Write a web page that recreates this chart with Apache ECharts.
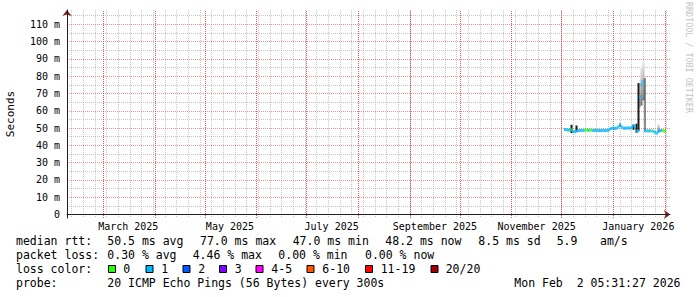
<!DOCTYPE html>
<html><head><meta charset="utf-8">
<script src="https://cdn.jsdelivr.net/npm/echarts@6/dist/echarts.min.js"></script>
<style>html,body{margin:0;padding:0;background:#fff}#c{width:697px;height:297px}</style>
</head><body><div id="c"></div>
<script>
// ---------- data ----------
const endTime = '2026-02-02T05:31:27Z';
const spanDays = 360;
const firstDay = '2025-12-03';
// daily median RTT (ms), Dec 3 2025 .. Feb 1 2026
const medianMs = [
  49.2, 49.0, 48.8, 49.0, 49.0, 48.0, 47.9, 48.2, 48.6, 48.6,
  48.7, 48.6, 48.8, 48.8, 48.7, 48.8, 48.7, 48.6, 48.7, 48.6,
  48.5, 48.6, 48.6, 48.7, 48.6, 48.6, 48.7, 49.4, 49.8, 50.0,
  49.8, 50.0, 50.6, 51.8, 50.8, 50.0, 49.9, 50.0, 50.1, 49.9,
  50.4, 51.4, 51.2, 48.2, 48.4, 68.0, 75.0, 77.0, 48.4, 48.4,
  48.3, 48.4, 48.3, 48.2, 47.6, 47.0, 48.0, 48.5, 48.6, 48.4,
  48.2
];
// lost pings per day (out of 20)
const lossCount = [
  1, 1, 1, 1, 0, 1, 1, 1, 1, 1,
  1, 1, 0, 0, 1, 0, 0, 1, 1, 1,
  1, 1, 1, 1, 1, 1, 1, 1, 1, 1,
  1, 1, 1, 1, 1, 1, 1, 1, 1, 1,
  1, 1, 1, 1, 1, 1, 1, 1, 1, 1,
  1, 1, 0, 1, 1, 1, 1, 1, 1, 0,
  0
];
// outer (light) smoke
const outerDates = ['2026-01-17', '2026-01-18', '2026-01-19', '2026-01-28'];
const outerLo    = [62.0, 63.0, 66.0, 47.5];
const outerHi    = [78.0, 85.0, 88.4, 52.3];
// inner (dark) smoke
const innerDates = ['2025-12-07', '2025-12-10', '2026-01-05', '2026-01-13', '2026-01-15', '2026-01-16', '2026-01-20'];
const innerLo    = [47.1, 48.0, 50.6, 49.0, 47.3, 48.4, 48.4];
const innerHi    = [51.9, 51.5, 52.6, 51.9, 52.5, 76.0, 79.0];

const yTickValues = [0, 10, 20, 30, 40, 50, 60, 70, 80, 90, 100, 110];
const yTickLabels = ['0', '10 m', '20 m', '30 m', '40 m', '50 m', '60 m', '70 m', '80 m', '90 m', '100 m', '110 m'];
const yMinorValues = [5, 15, 25, 35, 45, 55, 65, 75, 85, 95, 105, 115];
const monthGridDates = ['2025-03-01', '2025-04-01', '2025-05-01', '2025-06-01', '2025-07-01', '2025-08-01',
  '2025-09-01', '2025-10-01', '2025-11-01', '2025-12-01', '2026-01-01', '2026-02-01'];
const xLabelDates = ['2025-03-16', '2025-05-16', '2025-07-16', '2025-09-16', '2025-11-16', '2026-01-16'];
const xLabelTexts = ['March 2025', 'May 2025', 'July 2025', 'September 2025', 'November 2025', 'January 2026'];

const lossColorLabels = ['0', '1', '2', '3', '4-5', '6-10', '11-19', '20/20'];
const lossColors = ['#26ff00', '#00b8ff', '#0059ff', '#7e00ff', '#ff00ff', '#ff5500', '#ff0000', '#a10000'];

const statsLine1 = ['median rtt:', '50.5 ms avg', '77.0 ms max', '47.0 ms min', '48.2 ms now', '8.5 ms sd', '5.9', 'am/s'];
const statsLine2 = ['packet loss:', '0.30 % avg', '4.46 % max', '0.00 % min', '0.00 % now'];
const probeLine = ['probe:', '20 ICMP Echo Pings (56 Bytes) every 300s'];
const dateText = 'Mon Feb  2 05:31:27 2026';
const creditText = 'RRDTOOL / TOBI OETIKER';

// ---------- layout (not data) ----------
const line1X = [16, 107.3, 200, 292.7, 385.3, 478.3, 556.7, 600];
const line2X = [16, 107.3, 192.7, 278.3, 365];
const line4X = [16, 107.3];
const swatchX = [108.5, 146, 183, 219.5, 256, 307, 365.5, 431];
const swatchLabelX = [123.3, 161.3, 198.3, 234.7, 271.3, 322.3, 380.7, 445.7];
const rowY = [241.3, 255.3, 269.2, 283.2];
const FONT = '"DejaVu Sans Mono", monospace';

// ---------- build ----------
const DAY = 86400000;
const END = Date.parse(endTime);
const START = END - spanDays * DAY;
const XMAX = END + 1.8 * DAY;
const t0 = Date.parse(firstDay);

const medianData = medianMs.map((v, i) => ({
  value: [t0 + i * DAY, v],
  itemStyle: { color: lossColors[lossCount[i]] }
}));
const outerData = outerDates.map((d, i) => [Date.parse(d), outerLo[i], outerHi[i], outerLo[i], outerHi[i]]);
const innerData = innerDates.map((d, i) => [Date.parse(d), innerLo[i], innerHi[i], innerLo[i], innerHi[i]]);

const monthTs = monthGridDates.map(d => Date.parse(d));
const labelTs = xLabelDates.map(d => Date.parse(d));
const weekTs = [];
for (let t = Date.parse('2025-02-10'); t <= END; t += 7 * DAY) weekTs.push(t);

const majorColor = 'rgba(222,79,79,0.6)';
const majorMarkColor = 'rgba(222,79,79,0.95)';
const minorColor = 'rgba(143,143,143,0.5)';

const graphics = [];
function txt(x, y, s, extra) {
  graphics.push(Object.assign({
    type: 'text', x: x, y: y, silent: true,
    style: { text: s, font: '11.5px ' + FONT, fill: '#000', align: 'left', textAlign: 'left', verticalAlign: 'middle', textVerticalAlign: 'middle' }
  }, extra || {}));
}
statsLine1.forEach((s, i) => txt(line1X[i], rowY[0], s));
statsLine2.forEach((s, i) => txt(line2X[i], rowY[1], s));
txt(16, rowY[2], 'loss color:');
lossColorLabels.forEach((s, i) => {
  graphics.push({ type: 'rect', silent: true, shape: { x: swatchX[i], y: 265.5, width: 7, height: 7 },
    style: { fill: lossColors[i], stroke: '#000', lineWidth: 1 } });
  txt(swatchLabelX[i], rowY[2], s);
});
probeLine.forEach((s, i) => txt(line4X[i], rowY[3], s));
graphics.push({ type: 'text', x: 680.5, y: rowY[3], silent: true,
  style: { text: dateText, font: '11.5px ' + FONT, fill: '#000', align: 'right', textAlign: 'right', verticalAlign: 'middle', textVerticalAlign: 'middle' } });
graphics.push({ type: 'text', x: 689, y: 2, rotation: -Math.PI / 2, silent: true,
  style: { text: creditText, font: '8.4px ' + FONT, fill: '#c4c4c4', align: 'left', textAlign: 'left', verticalAlign: 'middle', textVerticalAlign: 'middle' } });

const chart = echarts.init(document.getElementById('c'), null, { renderer: 'svg', width: 697, height: 297 });
chart.setOption({
  animation: false,
  backgroundColor: '#ffffff',
  grid: { left: 67, right: 27, top: 10, bottom: 79, containLabel: false, outerBoundsMode: 'none' },
  xAxis: [
    { type: 'value', min: START, max: XMAX, position: 'bottom', z: 3, scale: true,
      axisLine: { show: true, onZero: true, lineStyle: { color: '#1f1f1f', width: 1 } },
      axisTick: { show: false, customValues: labelTs },
      axisLabel: { show: true, customValues: labelTs, margin: 3, color: '#000', fontSize: 10, fontFamily: FONT,
        formatter: function (v) { const k = labelTs.indexOf(v); return k >= 0 ? xLabelTexts[k] : ''; } },
      splitLine: { show: false } },
    { type: 'value', min: START, max: XMAX, position: 'bottom', z: 2, scale: true,
      axisLine: { show: true, onZero: true, symbol: ['none', 'arrow'], symbolSize: [7, 6],
        lineStyle: { color: '#801f1f', width: 0 } },
      axisTick: { show: false, customValues: weekTs },
      axisLabel: { show: false },
      splitLine: { show: true, lineStyle: { color: minorColor, width: 1, type: [1, 1] } } }
  ],
  yAxis: [
    { type: 'value', min: -2, max: 118.25, position: 'left', z: 3,
      name: 'Seconds', nameLocation: 'middle', nameGap: 51, nameRotate: 90,
      nameTextStyle: { fontFamily: FONT, fontSize: 11, color: '#000' },
      axisLine: { show: true, onZero: false, lineStyle: { color: '#1f1f1f', width: 1 } },
      axisTick: { show: false, customValues: yTickValues },
      axisLabel: { show: true, customValues: yTickValues, margin: 7, color: '#000', fontSize: 10, fontFamily: FONT,
        formatter: function (v) { const k = yTickValues.indexOf(v); return k >= 0 ? yTickLabels[k] : ''; } },
      splitLine: { show: true, lineStyle: { color: majorColor, width: 1, type: [1, 1] } } },
    { type: 'value', min: -2, max: 118.25, position: 'left', z: 2,
      axisLine: { show: true, onZero: false, symbol: ['none', 'arrow'], symbolSize: [7, 6],
        lineStyle: { color: '#801f1f', width: 0 } },
      axisTick: { show: false, customValues: yMinorValues },
      axisLabel: { show: false },
      splitLine: { show: true, lineStyle: { color: minorColor, width: 1, type: [1, 1] } } }
  ],
  series: [
    { type: 'line', name: 'month grid', xAxisIndex: 0, yAxisIndex: 0, data: [], z: 2, silent: true,
      markLine: {
        silent: true, animation: false, symbol: ['none', 'none'], precision: 20,
        label: { show: false }, emphasis: { disabled: true },
        lineStyle: { color: majorMarkColor, width: 1, type: [1, 1] },
        data: monthTs.map(v => ({ xAxis: v }))
      } },
    { type: 'candlestick', name: 'smoke', xAxisIndex: 0, yAxisIndex: 0, barWidth: 2, z: 3,
      itemStyle: {
        color: { type: 'linear', x: 0, y: 0, x2: 0, y2: 1, colorStops: [{ offset: 0, color: '#e6e6e6' }, { offset: 1, color: '#6a6a6a' }] },
        color0: '#9a9a9a', borderWidth: 0, borderColor: 'rgba(0,0,0,0)', borderColor0: 'rgba(0,0,0,0)'
      },
      data: outerData },
    { type: 'candlestick', name: 'smoke core', xAxisIndex: 0, yAxisIndex: 0, barWidth: 2, z: 4,
      itemStyle: { color: '#1e1e1e', color0: '#1e1e1e', borderWidth: 0, borderColor: 'rgba(0,0,0,0)', borderColor0: 'rgba(0,0,0,0)' },
      data: innerData },
    { type: 'scatter', name: 'median rtt', xAxisIndex: 0, yAxisIndex: 0, symbol: 'rect', symbolSize: [2, 3], z: 5,
      data: medianData }
  ],
  graphic: { elements: graphics }
});
</script>
</body></html>
